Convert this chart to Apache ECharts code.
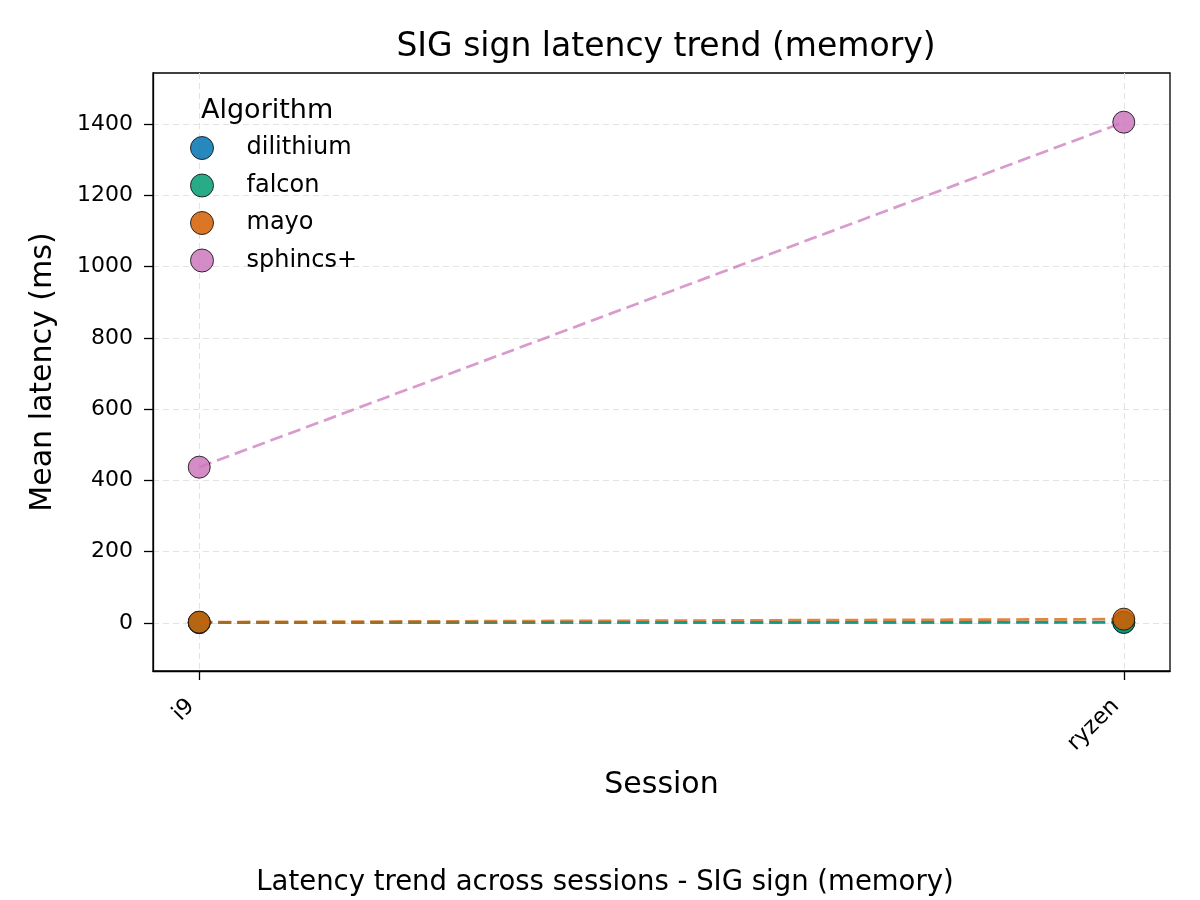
<!DOCTYPE html>
<html>
<head>
<meta charset="utf-8">
<script src="https://cdn.jsdelivr.net/npm/echarts@6/dist/echarts.min.js"></script>
<style>
  html, body { margin: 0; padding: 0; background: #fff; }
  #chart { width: 1200px; height: 900px; }
</style>
</head>
<body>
<div id="chart"></div>
<script>
const sessions = ['i9', 'ryzen'];
const algorithms = ['dilithium', 'falcon', 'mayo', 'sphincs+'];
const colors = ['#0173b2', '#029e73', '#d55e00', '#cc78bc'];
const dilithium = [1.2, 2.0];
const falcon = [0.6, 1.1];
const mayo = [2.2, 10.5];
const sphincs = [437, 1405];
const yTicks = [0, 200, 400, 600, 800, 1000, 1200, 1400];

const seriesValues = [dilithium, falcon, mayo, sphincs];
const font = 'DejaVu Sans';

const chart = echarts.init(document.getElementById('chart'));

const series = algorithms.map((name, i) => ({
  name: name,
  type: 'line',
  data: seriesValues[i].map((v, j) => [j, v]),
  symbol: 'circle',
  symbolSize: 22,
  z: 2 + i,
  itemStyle: {
    color: colors[i],
    borderColor: '#111',
    borderWidth: 1,
    opacity: 0.85
  },
  lineStyle: {
    color: colors[i],
    width: 2.7,
    type: [13, 6],
    opacity: 0.75
  },
  emphasis: { disabled: true }
}));

const axisBase = {
  axisLine: { show: true, onZero: false, lineStyle: { color: '#000', width: 1.3 } },
  splitLine: { show: true, lineStyle: { color: '#e3e3e3', type: [6, 4], width: 1 } }
};

chart.setOption({
  animation: false,
  textStyle: { fontFamily: font },
  title: [
    {
      text: 'SIG sign latency trend (memory)',
      left: 661, top: 26, textAlign: 'center',
      textStyle: { fontSize: 33, fontWeight: 'normal', color: '#000', fontFamily: font }
    },
    {
      text: 'Algorithm',
      left: 196, top: 92,
      textStyle: { fontSize: 27, fontWeight: 'normal', color: '#000', fontFamily: font }
    },
    {
      text: 'Latency trend across sessions - SIG sign (memory)',
      left: 600, top: 864, textAlign: 'center',
      textStyle: { fontSize: 27.5, fontWeight: 'normal', color: '#000', fontFamily: font }
    }
  ],
  legend: {
    orient: 'vertical',
    left: 185, top: 131,
    itemWidth: 23, itemHeight: 23, itemGap: 13.5,
    icon: 'circle',
    data: algorithms,
    textStyle: { fontSize: 24, color: '#000', lineHeight: 23, padding: [0, 0, 0, 28] },
    itemStyle: { borderColor: '#111', borderWidth: 1, opacity: 0.85 },
    lineStyle: { width: 0 },
    selectedMode: false
  },
  grid: {
    left: 153, right: 30, top: 73, bottom: 229,
    show: true, borderColor: '#000', borderWidth: 1.3,
    containLabel: false
  },
  xAxis: Object.assign({}, axisBase, {
    type: 'value',
    min: -0.05, max: 1.05,
    name: 'Session',
    nameLocation: 'middle',
    nameGap: 99,
    nameTextStyle: { fontSize: 30, color: '#000' },
    axisTick: { show: true, length: 9, lineStyle: { color: '#000', width: 1.3 }, customValues: [0, 1] },
    axisLabel: {
      customValues: [0, 1],
      rotate: 45, fontSize: 22.5, color: '#000', margin: 40,
      align: 'right', verticalAlign: 'bottom',
      formatter: v => sessions[Math.round(v)]
    }
  }),
  yAxis: Object.assign({}, axisBase, {
    type: 'value',
    min: -135, max: 1543,
    name: 'Mean latency (ms)',
    nameLocation: 'middle',
    nameGap: 95,
    nameTextStyle: { fontSize: 30, color: '#000' },
    axisTick: { show: true, length: 9, lineStyle: { color: '#000', width: 1.3 }, customValues: yTicks },
    axisLabel: { customValues: yTicks, fontSize: 22, color: '#000', margin: 20, formatter: v => String(v) }
  }),
  series: series
});

window.addEventListener('resize', () => chart.resize());
</script>
</body>
</html>
